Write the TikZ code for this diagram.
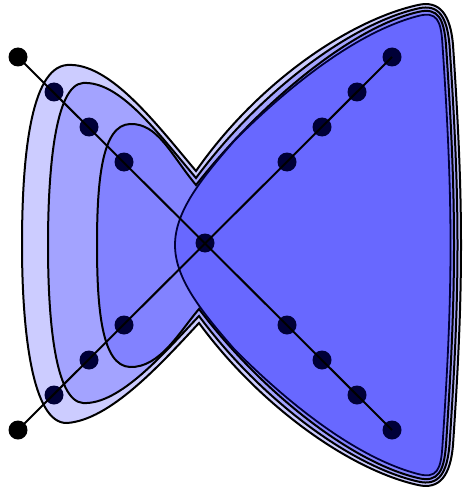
\documentclass[tikz,border=0pt]{standalone}
\usepackage{xcolor}
\usepackage{tikz}
\definecolor{figline}{RGB}{0,0,0}
\definecolor{fighull}{RGB}{0,0,255}
\definecolor{figvtx}{RGB}{0,0,55}
\tikzset{
  hull/.style  ={draw=figline, line width=1pt, fill=fighull, fill opacity=0.2},
  hullin/.style={draw=figvtx, line width=0.9pt, fill=fighull, fill opacity=0.2},
  vtx/.style   ={circle, fill=figvtx, inner sep=0pt, minimum size=9.5pt},
  vtxo/.style  ={circle, fill=figline, inner sep=0pt, minimum size=9.5pt},
  edg/.style   ={draw=figline, line width=1pt},
}
\begin{document}
\begin{tikzpicture}[x=0.5pt,y=-0.5pt]
  \useasboundingbox (0,0) rectangle (462,492);
  % outer hull
  \draw[hull] (196,171) .. controls (258,82) and (350,20) .. (418,5)
    .. controls (440,0) and (450.5,15) .. (453,45)
    .. controls (458,120) and (461,180) .. (461,245)
    .. controls (461,310) and (458,370) .. (453,445)
    .. controls (450.5,475) and (440,490) .. (418,485)
    .. controls (350,470) and (260,406) .. (199,323)
    .. controls (160,365) and (110,420) .. (67,423)
    .. controls (32,424) and (22,330) .. (22,245)
    .. controls (22,160) and (30,68) .. (67,65)
    .. controls (110,62) and (157,125) .. (196,171) -- cycle;
  \draw[hull] (196,178) .. controls (261,90) and (352,23.5) .. (418,8.5)
    .. controls (439,3.5) and (447,17) .. (449.5,45)
    .. controls (454.5,120) and (457.5,180) .. (457.5,245)
    .. controls (457.5,310) and (454.5,370) .. (449.5,445)
    .. controls (447,473) and (439,486.5) .. (418,481.5)
    .. controls (352,466.5) and (262,401) .. (199,316)
    .. controls (165,352) and (120,405) .. (83,403)
    .. controls (55,401) and (48,320) .. (48,245)
    .. controls (48,170) and (55,85) .. (83,83)
    .. controls (120,81) and (157,132) .. (196,178) -- cycle;
  \draw[hull] (196,185) .. controls (264,99) and (353.5,27) .. (418,12)
    .. controls (438,7) and (444,18.5) .. (446,45)
    .. controls (451,120) and (454,180) .. (454,245)
    .. controls (454,310) and (451,370) .. (446,445)
    .. controls (444,471.5) and (438,483) .. (418,478)
    .. controls (353.5,463) and (264,395) .. (199,309)
    .. controls (180,331) and (160,368) .. (130,367)
    .. controls (102,366) and (97,310) .. (97,245)
    .. controls (97,180) and (102,125) .. (130,124)
    .. controls (158,123) and (171,155) .. (196,185) -- cycle;
  % inner hull
  \draw[hullin] (175,245) .. controls (175,212) and (200,180) .. (235,140)
    .. controls (290,85) and (357,32) .. (418,16)
    .. controls (437,11) and (441,20) .. (442.5,45)
    .. controls (447.5,120) and (450.5,180) .. (450.5,245)
    .. controls (450.5,310) and (447.5,370) .. (442.5,445)
    .. controls (441,470) and (437,479) .. (418,474)
    .. controls (357,458) and (290,405) .. (235,350)
    .. controls (200,310) and (175,278) .. (175,245) -- cycle;
  % vertices
  \node[vtxo] (a0) at (18,57) {};
  \node[vtx]  (a1) at (54,92) {};
  \node[vtx]  (a2) at (89,127) {};
  \node[vtx]  (a3) at (124,162) {};
  \node[vtx]  (mid) at (205,243) {};
  \node[vtx]  (a5) at (287,325) {};
  \node[vtx]  (a6) at (322,360) {};
  \node[vtx]  (a7) at (357,395) {};
  \node[vtx]  (a8) at (392,430) {};
  \node[vtxo] (b0) at (18,430) {};
  \node[vtx]  (b1) at (54,395) {};
  \node[vtx]  (b2) at (89,360) {};
  \node[vtx]  (b3) at (124,325) {};
  \node[vtx]  (b5) at (287,162) {};
  \node[vtx]  (b6) at (322,127) {};
  \node[vtx]  (b7) at (357,92) {};
  \node[vtx]  (b8) at (392,57) {};
  % lines
  \draw[edg] (a0.center) -- (a8.center);
  \draw[edg] (b0.center) -- (b8.center);
\end{tikzpicture}
\end{document}
